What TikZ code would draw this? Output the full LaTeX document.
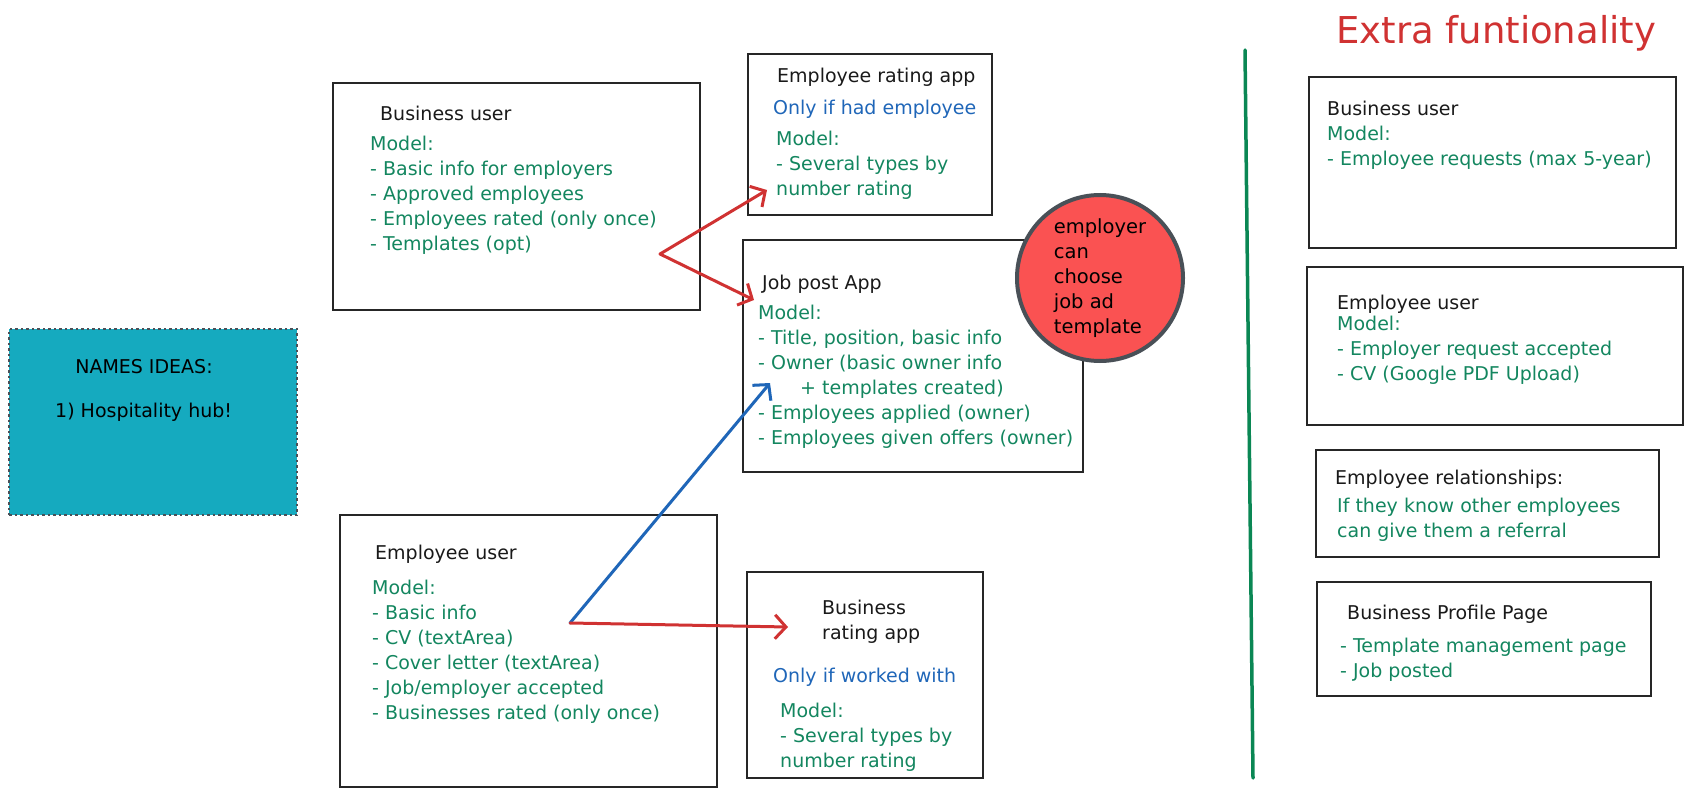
\documentclass[tikz,border=0pt]{standalone}
\usepackage{fontspec}
\setmainfont{DejaVu Sans}
\usetikzlibrary{arrows.meta}

\definecolor{modelgreen}{HTML}{13865F}
\definecolor{condblue}{HTML}{1F66B8}
\definecolor{linkred}{HTML}{D03232}
\definecolor{noteteal}{HTML}{15AABF}
\definecolor{dotred}{HTML}{FA5252}
\definecolor{dotrim}{HTML}{495057}
\definecolor{splitgreen}{HTML}{0A8754}

\tikzset{
  card/.style={draw=black!85, line width=1.6pt, rectangle, inner sep=0pt},
  txt/.style={anchor=north west, inner sep=0pt, align=left, yshift=-3pt,
    font=\fontsize{19}{25}\selectfont},
  head/.style={txt, text=black!90},
  model/.style={txt, text=modelgreen},
  cond/.style={txt, text=condblue},
  redlink/.style={draw=linkred, line width=3pt, line cap=round,
    -{Straight Barb[length=11pt,width=24pt]}},
  bluelink/.style={draw=condblue, line width=3pt, line cap=round,
    -{Straight Barb[length=11pt,width=24pt]}}
}

\begin{document}
\begin{tikzpicture}[x=1pt,y=-1pt]
  \useasboundingbox (0,0) rectangle (1692,797);

  % names note
  \node[fill=noteteal, draw=dotrim, line width=1.6pt, dash pattern=on 2.5pt off 3pt,
    minimum width=288pt, minimum height=186pt] (names) at (153,422) {};
  \node[txt, anchor=center, yshift=0pt] (names-head) at (144,364) {NAMES IDEAS:};
  \node[txt, anchor=west, yshift=0pt] (names-one) at (55,409) {1) Hospitality hub!};

  % business user
  \node[card, minimum width=367pt, minimum height=227pt] (bizuser) at (516.5,196.5) {};
  \node[head] (bizuser-head) at (380,103) {Business user};
  \node[model] (bizuser-model) at (370,133) {Model:\\- Basic info for employers\\- Approved employees\\- Employees rated (only once)\\- Templates (opt)};

  % employee rating app
  \node[card, minimum width=244pt, minimum height=161pt] (ratingapp) at (870,134.5) {};
  \node[head] (ratingapp-head) at (777,65) {Employee rating app};
  \node[cond] (ratingapp-cond) at (773,97) {Only if had employee};
  \node[model] (ratingapp-model) at (776,128) {Model:\\- Several types by\\number rating};

  % job post app
  \node[card, minimum width=340pt, minimum height=232pt] (jobpost) at (913,356) {};
  \node[head] (jobpost-head) at (762,272) {Job post App};
  \node[model] (jobpost-model) at (758,302) {Model:\\- Title, position, basic info\\- Owner (basic owner info\\\hspace*{42pt}+ templates created)\\- Employees applied (owner)\\- Employees given offers (owner)};

  % template note
  \node[circle, fill=dotred, draw=dotrim, line width=4pt, minimum size=166pt,
    inner sep=0pt, align=left, font=\fontsize{19.5}{25}\selectfont] (template) at (1100,278)
    {employer\\can\\choose\\job ad\\template};

  % employee user
  \node[card, minimum width=377pt, minimum height=272pt] (empuser) at (528.5,651) {};
  \node[head] (empuser-head) at (375,542) {Employee user};
  \node[model] (empuser-model) at (372,577) {Model:\\- Basic info\\- CV (textArea)\\- Cover letter (textArea)\\- Job/employer accepted\\- Businesses rated (only once)};

  % business rating app
  \node[card, minimum width=236pt, minimum height=206pt] (bizrating) at (865,675) {};
  \node[head] (bizrating-head) at (822,597) {Business\\rating app};
  \node[cond] (bizrating-cond) at (773,665) {Only if worked with};
  \node[model] (bizrating-model) at (780,700) {Model:\\- Several types by\\number rating};

  % links
  \coordinate (bizuser-fork) at (660,254);
  \coordinate (ratingapp-in) at (767,190);
  \coordinate (jobpost-in) at (754,300);
  \coordinate (empuser-fork) at (570,623);
  \coordinate (jobpost-in2) at (770,383);
  \coordinate (bizrating-in) at (788,627);
  \draw[redlink] (bizuser-fork) -- (ratingapp-in);
  \draw[redlink] (bizuser-fork) -- (jobpost-in);
  \draw[bluelink] (empuser-fork) -- (jobpost-in2);
  \draw[redlink] (empuser-fork) -- (bizrating-in);

  % divider
  \coordinate (split-top) at (1245,50);
  \coordinate (split-bot) at (1253,778);
  \draw[splitgreen, line width=3.5pt, line cap=round] (split-top) -- (split-bot);

  \node[anchor=west, inner sep=0pt, text=linkred, font=\fontsize{37}{42}\selectfont]
    (extra) at (1336,33) {Extra funtionality};

  % extra: business user
  \node[card, minimum width=367pt, minimum height=171pt] (xbizuser) at (1492.5,162.5) {};
  \node[head] (xbizuser-head) at (1327,98) {Business user};
  \node[model] (xbizuser-model) at (1327,123) {Model:\\- Employee requests (max 5-year)};

  % extra: employee user
  \node[card, minimum width=376pt, minimum height=158pt] (xempuser) at (1495,346) {};
  \node[head] (xempuser-head) at (1337,292) {Employee user};
  \node[model] (xempuser-model) at (1337,313) {Model:\\- Employer request accepted\\- CV (Google PDF Upload)};

  % extra: relationships
  \node[card, minimum width=343pt, minimum height=107pt] (relations) at (1487.5,503.5) {};
  \node[head] (relations-head) at (1335,467) {Employee relationships:};
  \node[model] (relations-model) at (1337,495) {If they know other employees\\can give them a referral};

  % extra: profile page
  \node[card, minimum width=334pt, minimum height=114pt] (profile) at (1484,639) {};
  \node[head] (profile-head) at (1347,602) {Business Profile Page};
  \node[model] (profile-model) at (1340,635) {- Template management page\\- Job posted};
\end{tikzpicture}
\end{document}
